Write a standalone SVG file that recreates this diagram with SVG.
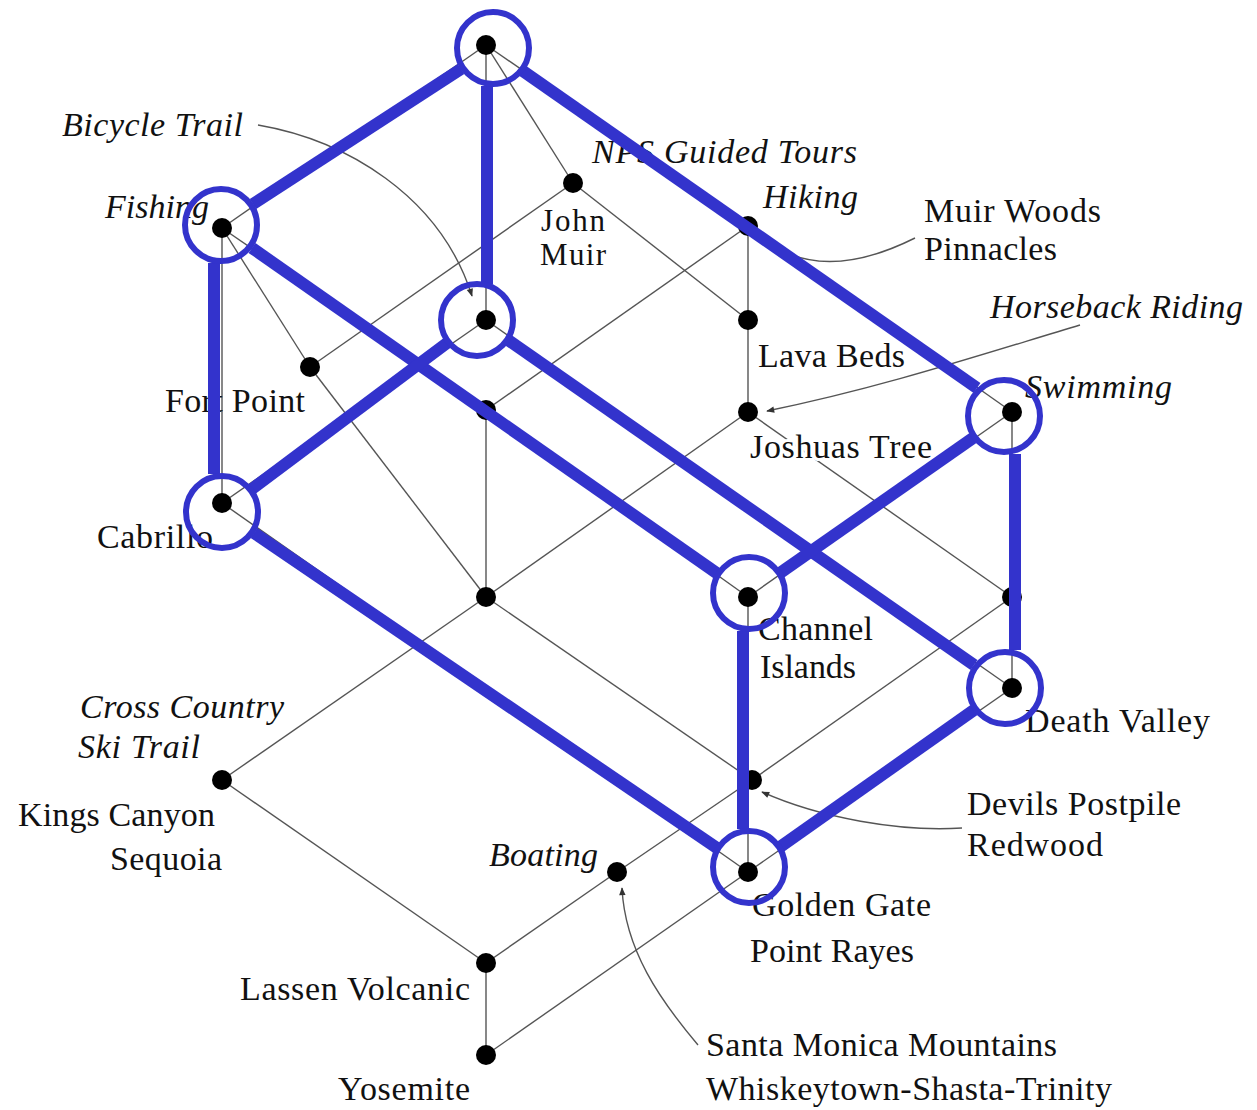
<svg xmlns="http://www.w3.org/2000/svg" width="1257" height="1110" viewBox="0 0 1257 1110">
<defs>
<style>
.e{stroke:#555;stroke-width:1.4;fill:none}
.a{stroke:#555;stroke-width:1.4;fill:none;marker-end:url(#ah)}
.d{fill:#000}
text{font-family:"Liberation Serif","Times New Roman",serif;font-size:34px;fill:#111}
.i{font-style:italic}
.s{font-size:31px}
.h{paint-order:stroke;stroke:#fff;stroke-width:6px;stroke-linejoin:round}
.b{stroke:#3333cc;stroke-width:12;fill:none}
.c{stroke:#3333cc;stroke-width:6;fill:none}
</style>
<marker id="ah" viewBox="0 0 10 10" refX="9" refY="5" markerWidth="10" markerHeight="8" orient="auto" markerUnits="userSpaceOnUse">
<path d="M0,1 L10,5 L0,9 z" fill="#333"/>
</marker>
</defs>
<rect width="1257" height="1110" fill="#fff"/>
<g id="connectors">
<line class="e" x1="486" y1="45" x2="222" y2="228"/>
<line class="e" x1="486" y1="45" x2="486" y2="320"/>
<line class="e" x1="486" y1="45" x2="573" y2="183"/>
<line class="e" x1="486" y1="45" x2="748" y2="226"/>
<line class="e" x1="222" y1="228" x2="222" y2="503"/>
<line class="e" x1="222" y1="228" x2="310" y2="367"/>
<line class="e" x1="222" y1="228" x2="486" y2="410"/>
<line class="e" x1="573" y1="183" x2="310" y2="367"/>
<line class="e" x1="573" y1="183" x2="748" y2="320"/>
<line class="e" x1="748" y1="226" x2="748" y2="320"/>
<line class="e" x1="748" y1="226" x2="486" y2="410"/>
<line class="e" x1="748" y1="226" x2="1012" y2="412"/>
<line class="e" x1="486" y1="320" x2="222" y2="503"/>
<line class="e" x1="486" y1="320" x2="1012" y2="688"/>
<line class="e" x1="310" y1="367" x2="486" y2="597"/>
<line class="e" x1="748" y1="320" x2="748" y2="412"/>
<line class="e" x1="486" y1="410" x2="486" y2="597"/>
<line class="e" x1="486" y1="410" x2="748" y2="597"/>
<line class="e" x1="748" y1="412" x2="486" y2="597"/>
<line class="e" x1="748" y1="412" x2="1012" y2="597"/>
<line class="e" x1="1012" y1="412" x2="748" y2="597"/>
<line class="e" x1="1012" y1="412" x2="1012" y2="597"/>
<line class="e" x1="222" y1="503" x2="748" y2="872"/>
<line class="e" x1="486" y1="597" x2="222" y2="780"/>
<line class="e" x1="486" y1="597" x2="752" y2="780"/>
<line class="e" x1="748" y1="597" x2="748" y2="872"/>
<line class="e" x1="1012" y1="597" x2="1012" y2="688"/>
<line class="e" x1="1012" y1="597" x2="752" y2="780"/>
<line class="e" x1="1012" y1="688" x2="748" y2="872"/>
<line class="e" x1="222" y1="780" x2="486" y2="963"/>
<line class="e" x1="617" y1="872" x2="486" y2="963"/>
<line class="e" x1="617" y1="872" x2="752" y2="780"/>
<line class="e" x1="748" y1="872" x2="486" y2="1055"/>
<line class="e" x1="486" y1="963" x2="486" y2="1055"/>
<path class="a" d="M258,125 C345,140 440,195 472,296"/>
<path class="a" d="M915,238 C875,258 815,278 765,240"/>
<path class="a" d="M1080,325 C980,355 880,388 767,411"/>
<path class="a" d="M962,828 C900,832 820,818 762,792"/>
<path class="a" d="M698,1045 C660,1000 625,950 622,888"/>
</g>
<g id="n-top"><circle class="d" cx="486" cy="45" r="10"/></g>
<g id="n-fishing"><circle class="d" cx="222" cy="228" r="10"/><text class="i" x="105" y="218" textLength="104">Fishing</text></g>
<g id="n-johnmuir"><circle class="d" cx="573" cy="183" r="10"/><text class="s" x="541" y="231" textLength="64">John</text><text class="s" x="540" y="265" textLength="66">Muir</text></g>
<g id="n-hiking"><circle class="d" cx="748" cy="226" r="10"/><text class="i" x="763" y="208" textLength="95">Hiking</text></g>
<g id="n-center"><circle class="d" cx="486" cy="320" r="10"/></g>
<g id="n-fortpoint"><circle class="d" cx="310" cy="367" r="10"/><text x="165" y="412" textLength="140">Fort Point</text></g>
<g id="n-lavabeds"><circle class="d" cx="748" cy="320" r="10"/><text x="758" y="367" textLength="147">Lava Beds</text></g>
<g id="n-mid"><circle class="d" cx="486" cy="410" r="10"/></g>
<g id="n-joshuastree"><circle class="d" cx="748" cy="412" r="10"/><text class="h" x="750" y="458" textLength="182">Joshuas Tree</text></g>
<g id="n-swimming"><circle class="d" cx="1012" cy="412" r="10"/><text class="i" x="1025" y="398" textLength="147">Swimming</text></g>
<g id="n-cabrillo"><circle class="d" cx="222" cy="503" r="10"/><text x="97" y="548" textLength="116">Cabrillo</text></g>
<g id="n-low"><circle class="d" cx="486" cy="597" r="10"/></g>
<g id="n-channel"><circle class="d" cx="748" cy="597" r="10"/><text x="758" y="640" textLength="115">Channel</text><text x="760" y="678" textLength="96">Islands</text></g>
<g id="n-right"><circle class="d" cx="1012" cy="597" r="10"/></g>
<g id="n-deathvalley"><circle class="d" cx="1012" cy="688" r="10"/><text x="1025" y="732" textLength="185">Death Valley</text></g>
<g id="n-kings"><circle class="d" cx="222" cy="780" r="10"/><text class="i" x="80" y="718" textLength="204">Cross Country</text><text class="i" x="78" y="758" textLength="122">Ski Trail</text><text x="18" y="826" textLength="197">Kings Canyon</text><text x="110" y="870" textLength="112">Sequoia</text></g>
<g id="n-devils"><circle class="d" cx="752" cy="780" r="10"/><text x="967" y="815" textLength="214">Devils Postpile</text><text x="967" y="856" textLength="136">Redwood</text></g>
<g id="n-boating"><circle class="d" cx="617" cy="872" r="10"/><text class="i" x="489" y="866" textLength="109">Boating</text><text x="706" y="1056" textLength="351">Santa Monica Mountains</text><text x="706" y="1100" textLength="406">Whiskeytown-Shasta-Trinity</text></g>
<g id="n-goldengate"><circle class="d" cx="748" cy="872" r="10"/><text x="752" y="916" textLength="179">Golden Gate</text><text x="750" y="962" textLength="164">Point Rayes</text></g>
<g id="n-lassen"><circle class="d" cx="486" cy="963" r="10"/><text x="240" y="1000" textLength="230">Lassen Volcanic</text></g>
<g id="n-yosemite"><circle class="d" cx="486" cy="1055" r="10"/><text x="338" y="1100" textLength="132">Yosemite</text></g>
<g id="attribute-labels">
<text class="i" x="62" y="136" textLength="181">Bicycle Trail</text>
<text class="i" x="592" y="163" textLength="265">NPS Guided Tours</text>
<text x="924" y="222" textLength="177">Muir Woods</text>
<text x="924" y="260" textLength="133">Pinnacles</text>
<text class="i" x="990" y="318" textLength="253">Horseback Riding</text>
</g>
<g id="highlight">
<line class="b" x1="461" y1="69" x2="253" y2="204"/>
<line class="b" x1="487" y1="86" x2="487" y2="284"/>
<line class="b" x1="520" y1="69" x2="977" y2="388"/>
<line class="b" x1="214" y1="263" x2="214" y2="474"/>
<line class="b" x1="252" y1="248" x2="718" y2="574"/>
<line class="b" x1="447" y1="343" x2="252" y2="489"/>
<line class="b" x1="508" y1="340" x2="974" y2="665"/>
<line class="b" x1="973" y1="438" x2="780" y2="573"/>
<line class="b" x1="1015" y1="454" x2="1015" y2="650"/>
<line class="b" x1="254" y1="533" x2="717" y2="848"/>
<line class="b" x1="743" y1="631" x2="743" y2="829"/>
<line class="b" x1="974" y1="710" x2="780" y2="847"/>
<circle class="c" cx="493" cy="48" r="36"/>
<circle class="c" cx="221" cy="225" r="36"/>
<circle class="c" cx="477" cy="320" r="36"/>
<circle class="c" cx="222" cy="512" r="36"/>
<circle class="c" cx="1004" cy="416" r="36"/>
<circle class="c" cx="749" cy="593" r="36"/>
<circle class="c" cx="1005" cy="688" r="36"/>
<circle class="c" cx="749" cy="867" r="36"/>
</g>
</svg>
